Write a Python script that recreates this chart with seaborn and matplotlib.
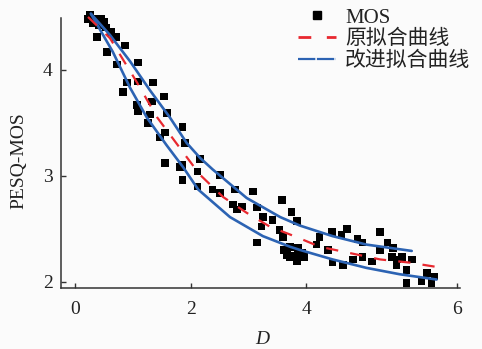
import numpy as np
import pandas as pd
import matplotlib
matplotlib.use("Agg")
import matplotlib.pyplot as plt
from matplotlib.lines import Line2D
import seaborn as sns

# ---------------- data ----------------
mos_x = [0.22, 0.34, 0.45, 0.31, 0.41, 0.53, 0.62, 0.38, 0.70, 0.86, 0.55, 0.72,
         1.09, 0.90, 0.83, 1.09, 1.35, 1.54, 1.07, 1.09, 1.33, 1.59, 1.29, 1.26,
         1.47, 1.86, 1.55, 1.90, 1.55, 1.81, 2.12, 1.86, 0.25, 0.50,
         1.85, 2.16, 2.12, 2.51, 2.38, 2.51, 2.77, 2.73, 2.89, 2.80, 3.08, 3.15,
         3.25, 3.23, 3.42, 3.58, 3.75, 3.84, 3.54, 3.60, 3.15, 3.72, 3.67, 3.80,
         3.93, 3.86, 4.18, 4.14, 3.61, 3.72, 3.84, 3.96, 3.89,
         4.29, 4.34, 4.35, 4.49, 4.47, 4.54, 4.62, 4.68, 4.75, 4.75, 4.87, 4.98,
         4.98, 5.08, 5.15, 5.14, 5.21, 5.20, 5.27, 5.33, 5.40, 5.33, 5.53, 5.60,
         5.66, 5.70]
mos_y = [4.48, 4.48, 4.48, 4.44, 4.42, 4.40, 4.36, 4.31, 4.31, 4.23, 4.17, 4.05,
         4.07, 3.88, 3.79, 3.89, 3.88, 3.75, 3.67, 3.61, 3.70, 3.59, 3.58, 3.50,
         3.36, 3.46, 3.41, 3.31, 3.12, 3.08, 3.04, 2.96, 4.52, 4.45,
         3.10, 3.16, 2.90, 3.01, 2.87, 2.84, 2.87, 2.73, 2.71, 2.68, 2.85, 2.70,
         2.61, 2.52, 2.58, 2.77, 2.66, 2.57, 2.49, 2.42, 2.37, 2.33, 2.25, 2.24,
         2.27, 2.32, 2.42, 2.35, 2.30, 2.23, 2.19, 2.23, 2.25,
         2.30, 2.47, 2.18, 2.16, 2.44, 2.50, 2.21, 2.40, 2.37, 2.23, 2.19, 2.47,
         2.30, 2.37, 2.32, 2.23, 2.21, 2.16, 2.23, 2.11, 2.21, 1.99, 2.00, 2.08,
         1.99, 2.05]

orig_x = [0.22, 0.60, 1.07, 1.42, 1.87, 2.16, 2.56, 2.97, 3.37, 3.84, 4.18, 4.58,
          4.98, 5.37, 5.72]
orig_y = [4.50, 4.30, 3.88, 3.55, 3.22, 3.01, 2.80, 2.65, 2.52, 2.42, 2.33, 2.27,
          2.21, 2.18, 2.14]

upper_x = [0.27, 0.60, 0.95, 1.29, 1.64, 1.93, 2.16, 2.38, 2.97, 3.55, 3.89, 4.35,
           4.80, 5.40]
upper_y = [4.53, 4.33, 4.08, 3.81, 3.55, 3.31, 3.17, 3.06, 2.79, 2.61, 2.53, 2.43,
           2.35, 2.29]

lower_x = [0.27, 0.65, 0.95, 1.24, 1.58, 1.87, 2.13, 2.68, 3.25, 3.72, 3.89, 4.35,
           4.80, 5.24, 5.73]
lower_y = [4.53, 4.17, 3.83, 3.55, 3.29, 3.08, 2.87, 2.61, 2.43, 2.33, 2.30, 2.21,
           2.13, 2.07, 2.02]

x_ticks = [0, 2, 4, 6]
y_ticks = [2, 3, 4]
legend_labels = ["MOS", "原拟合曲线", "改进拟合曲线"]

# ---------------- style ----------------
sns.set_style("ticks")
plt.rcParams["font.family"] = ["Liberation Serif", "Noto Sans CJK SC", "DejaVu Sans"]
plt.rcParams["axes.unicode_minus"] = False

RED = "#e8282f"
BLUE = "#2c63b3"
BG = "#fbfbfb"
INK = "#333333"

fig = plt.figure(figsize=(4.82, 3.49), dpi=100, facecolor=BG)
W, H = 482, 349
ax = fig.add_axes([61 / W, 1 - 288 / H, 399 / W, 270 / H])
ax.set_facecolor(BG)

# piecewise x scale (the reference's axis is stretched beyond 4)
K = 75.5 / 57.75


def fwd(x):
    x = np.asarray(x, dtype=float)
    return np.where(x <= 4, x, 4 + (x - 4) * K)


def inv(u):
    u = np.asarray(u, dtype=float)
    return np.where(u <= 4, u, 4 + (u - 4) / K)


ax.set_xscale("function", functions=(fwd, inv))

df_pts = pd.DataFrame({"D": mos_x, "MOS": mos_y})
sns.scatterplot(data=df_pts, x="D", y="MOS", marker="s", s=30, color="black",
                edgecolor="none", linewidth=0, ax=ax, clip_on=False, zorder=2)

df_orig = pd.DataFrame({"D": orig_x, "v": orig_y})
df_up = pd.DataFrame({"D": upper_x, "v": upper_y})
df_lo = pd.DataFrame({"D": lower_x, "v": lower_y})

sns.lineplot(data=df_up, x="D", y="v", sort=False, estimator=None, color=BLUE,
             lw=1.9, ax=ax, clip_on=False, zorder=3)
sns.lineplot(data=df_lo, x="D", y="v", sort=False, estimator=None, color=BLUE,
             lw=1.9, ax=ax, clip_on=False, zorder=3)
sns.lineplot(data=df_orig, x="D", y="v", sort=False, estimator=None, color=RED,
             lw=1.6, linestyle=(0, (5.5, 5.5)), ax=ax, clip_on=False, zorder=4)

ax.set_xlim(-0.248, 6.04)
ax.set_ylim(1.94, 4.49)
ax.set_xticks(x_ticks)
ax.set_yticks(y_ticks)
ax.set_xticklabels([str(t) for t in x_ticks])
ax.set_yticklabels([str(t) for t in y_ticks])

for s in ["top", "right"]:
    ax.spines[s].set_visible(False)
for s in ["left", "bottom"]:
    ax.spines[s].set_color(INK)
    ax.spines[s].set_linewidth(1.1)

ax.tick_params(axis="both", direction="in", length=3.6, width=1.0, colors=INK,
               labelsize=14, labelcolor="#222222")
ax.tick_params(axis="x", pad=9)
ax.tick_params(axis="y", pad=6)

ax.set_xlabel("D", fontsize=14, style="italic", color="#222222")
ax.set_ylabel("PESQ-MOS", fontsize=14, color="#222222")
ax.xaxis.set_label_coords(0.504, -0.16)
ax.yaxis.set_label_coords(-0.085, 0.47)

handles = [
    Line2D([], [], linestyle="none", marker="s", markersize=5.4, color="black"),
    Line2D([], [], color=RED, lw=2.0, linestyle=(0, (4.6, 5.6))),
    Line2D([], [], color=BLUE, lw=1.6, linestyle=(0, (7.8, 0.7))),
]
leg = ax.legend(handles, legend_labels, loc="upper left",
                bbox_to_anchor=(298 / W, 1 - 8 / H), bbox_transform=fig.transFigure,
                frameon=False, fontsize=15, handlelength=1.8, handletextpad=0.45,
                borderpad=0, borderaxespad=0, labelspacing=0.1, numpoints=1)
for t in leg.get_texts():
    t.set_color("#222222")

fig.savefig("out.png", dpi=100, facecolor=BG)
